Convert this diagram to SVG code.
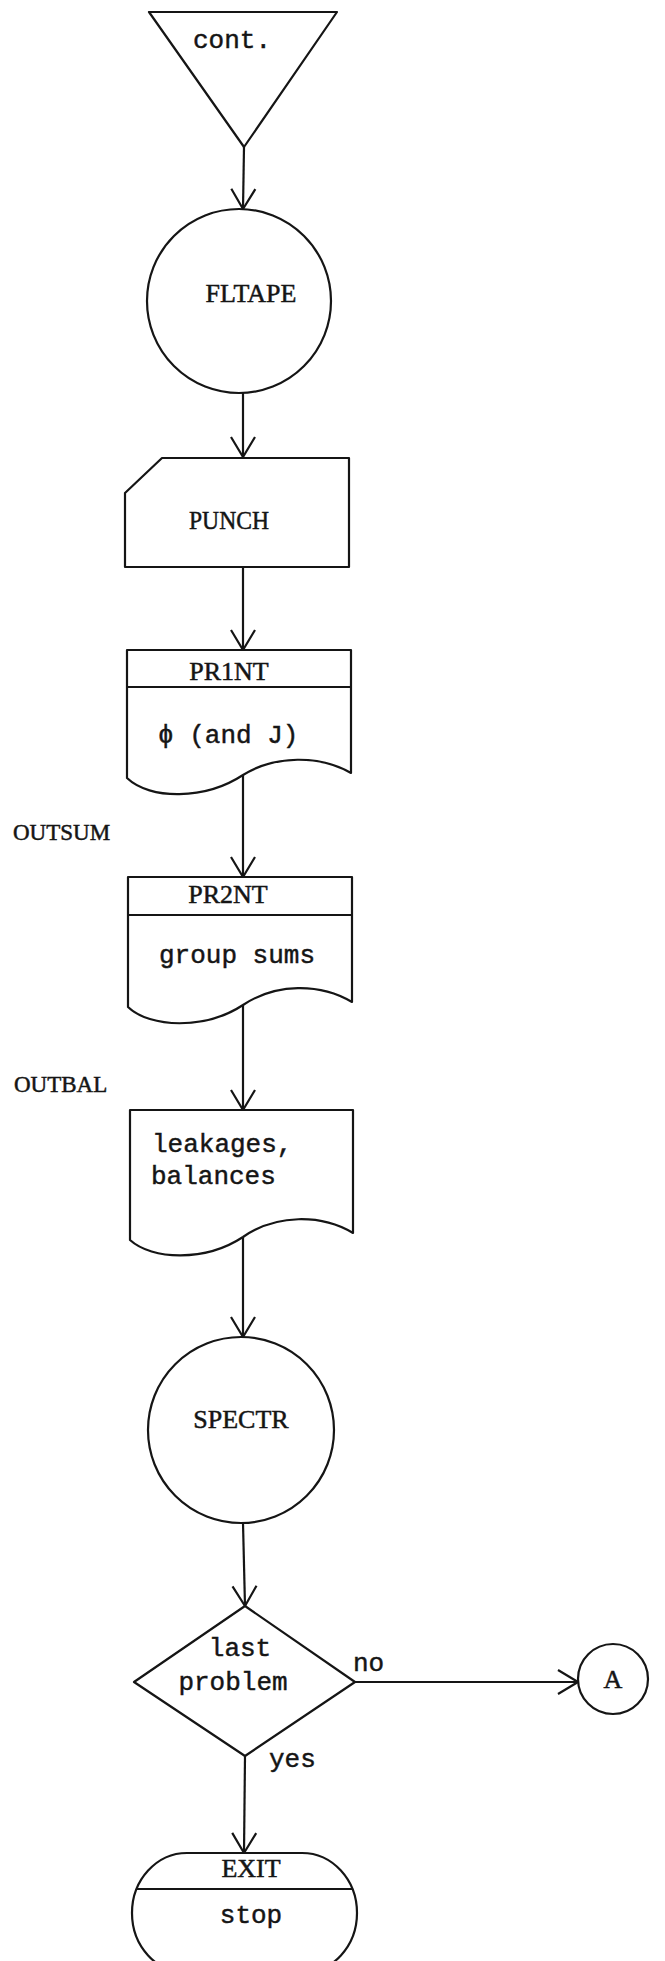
<svg xmlns="http://www.w3.org/2000/svg" width="665" height="1961" viewBox="0 0 665 1961">
  <style>
    .shape { fill: #ffffff; stroke: #151515; stroke-width: 2.2; stroke-linejoin: round; }
    .rule { stroke: #151515; stroke-width: 2.2; fill: none; }
    .edge { stroke: #151515; stroke-width: 2.2; fill: none; marker-end: url(#vee); }
    .cap { font-family: "Liberation Serif", "Times New Roman", serif; font-size: 26px; fill: #151515; stroke: #151515; stroke-width: 0.5; }
    .side { font-family: "Liberation Serif", "Times New Roman", serif; font-size: 23px; fill: #151515; stroke: #151515; stroke-width: 0.5; }
    .type { font-family: "Liberation Mono", "Courier New", monospace; font-size: 26px; fill: #151515; stroke: #151515; stroke-width: 0.45; }
    .mid { text-anchor: middle; }
  </style>
  <defs>
    <!-- open V arrowhead -->
    <marker id="vee" markerUnits="userSpaceOnUse" viewBox="-23 -14 25 28" refX="0" refY="0" markerWidth="25" markerHeight="28" orient="auto" overflow="visible">
      <path d="M-20,-12 L0,0 L-20,12" fill="none" stroke="#151515" stroke-width="2.2" stroke-linejoin="round"/>
    </marker>
  </defs>

  <rect x="0" y="0" width="665" height="1961" fill="#ffffff"/>

  <g id="connectors">
    <path class="edge" d="M244,147 L243,209"/>
    <path class="edge" d="M243,393 L243,457"/>
    <path class="edge" d="M243,567 L243,650"/>
    <path class="edge" d="M243,775 L243,877"/>
    <path class="edge" d="M243,1005 L243,1110"/>
    <path class="edge" d="M243,1237 L243,1337"/>
    <path class="edge" d="M243,1523 L245,1606"/>
    <path class="edge" d="M355,1682 L578,1682"/>
    <path class="edge" d="M245,1756 L244,1853"/>
  </g>

  <g id="cont">
    <polygon class="shape" points="149,12 337,12 244,147"/>
    <text class="type mid" x="232" y="48">cont.</text>
  </g>

  <g id="fltape">
    <circle class="shape" cx="239" cy="301" r="92"/>
    <text class="cap mid" x="251" y="302">FLTAPE</text>
  </g>

  <g id="punch">
    <path class="shape" d="M162,458 L349,458 L349,567 L125,567 L125,493 Z"/>
    <text class="cap mid" x="229" y="529" textLength="80" lengthAdjust="spacingAndGlyphs">PUNCH</text>
  </g>

  <g id="pr1nt">
    <path class="shape" d="M127,650 L351,650 L351,773 C320,755 275,755 243,775 C205,800 150,800 127,778 Z"/>
    <line class="rule" x1="127" y1="687" x2="351" y2="687"/>
    <text class="cap mid" x="229" y="680">PR1NT</text>
    <text class="type" x="158" y="743">ϕ (and J)</text>
  </g>

  <text id="outsum" class="side" x="13" y="840">OUTSUM</text>

  <g id="pr2nt">
    <path class="shape" d="M128,877 L352,877 L352,1002 C320,983 276,983 243,1005 C205,1030 150,1028 128,1007 Z"/>
    <line class="rule" x1="128" y1="915" x2="352" y2="915"/>
    <text class="cap mid" x="228" y="903">PR2NT</text>
    <text class="type mid" x="237" y="963">group sums</text>
  </g>

  <text id="outbal" class="side" x="14" y="1092">OUTBAL</text>

  <g id="balances">
    <path class="shape" d="M130,1110 L353,1110 L353,1233 C321,1214 276,1214 243,1237 C205,1262 152,1260 130,1240 Z"/>
    <text class="type" x="152" y="1152">leakages,</text>
    <text class="type" x="151" y="1184">balances</text>
  </g>

  <g id="spectr">
    <circle class="shape" cx="241" cy="1430" r="93"/>
    <text class="cap mid" x="241" y="1428">SPECTR</text>
  </g>

  <g id="last-problem">
    <polygon class="shape" points="245,1606 355,1682 245,1756 134,1682"/>
    <text class="type mid" x="240" y="1656">last</text>
    <text class="type mid" x="233" y="1690">problem</text>
    <text class="type" x="353" y="1671">no</text>
    <text class="type" x="269" y="1767">yes</text>
  </g>

  <g id="connector-a">
    <circle class="shape" cx="613" cy="1679" r="35"/>
    <text class="cap mid" x="613" y="1688">A</text>
  </g>

  <g id="exit">
    <rect class="shape" x="132" y="1853" width="225" height="120" rx="55" ry="60"/>
    <line class="rule" x1="137" y1="1889" x2="352" y2="1889"/>
    <text class="cap mid" x="251" y="1877">EXIT</text>
    <text class="type mid" x="251" y="1923">stop</text>
  </g>
</svg>
